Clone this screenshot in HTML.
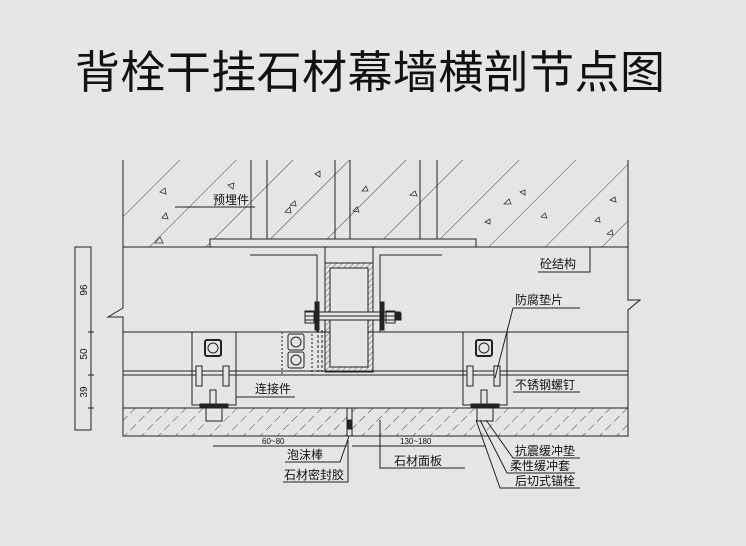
<!DOCTYPE html>
<html><head><meta charset="utf-8"><style>
html,body{margin:0;padding:0;background:#e6e6e4;}
svg{display:block}
text{font-family:"Liberation Sans","Noto Sans CJK SC",sans-serif;fill:#111}
</style></head><body>
<svg width="746" height="546" viewBox="0 0 746 546" xmlns="http://www.w3.org/2000/svg">
<defs>
<pattern id="h" width="12" height="12" patternUnits="userSpaceOnUse" patternTransform="rotate(45)">
<line x1="0" y1="0" x2="0" y2="12" stroke="#333" stroke-width="0.9" stroke-dasharray="8 4"/>
</pattern>
<pattern id="c" width="40" height="40" patternUnits="userSpaceOnUse" patternTransform="rotate(45)">
<line x1="0" y1="0" x2="0" y2="40" stroke="#333" stroke-width="0.9"/>
</pattern>
<pattern id="s" width="4" height="4" patternUnits="userSpaceOnUse" patternTransform="rotate(45)">
<line x1="0" y1="0" x2="0" y2="4" stroke="#444" stroke-width="0.8"/>
</pattern>
</defs>
<rect width="746" height="546" fill="#e6e6e4"/>
<text x="75" y="88" font-size="45" textLength="590" lengthAdjust="spacing" font-family="Noto Sans CJK SC,sans-serif" style="font-weight:400">背栓干挂石材幕墙横剖节点图</text>

<g stroke="#222" stroke-width="1" fill="none">
<rect x="123" y="160" width="505" height="87" fill="url(#c)" stroke="none"/>
<path d="M123 160V247M251 160V239M267 160V239M335 160V239M350 160V239M420 160V239M437 160V239M628 160V247"/>
<rect x="210" y="239" width="266" height="8" fill="#e6e6e4"/>
<line x1="123" y1="247" x2="628" y2="247"/>
<g fill="none" stroke="#333" stroke-width="0.8">
<path d="M155 243l5 -6 3 6z M162 218l4-5 2 6z M160 192l5-4 1 6z M228 185l6-2-1 6z M285 212l5-5 1 6z M290 205l5-4 1 5z M315 174l5-3 0 6z M362 191l4-5 2 5z M353 211l4-4 2 5z M410 195l5-4 2 5z M504 204l5-5 2 5z M485 222l5-3 0 5z M541 217l4-4 2 5z M610 200l5-3 1 5z M595 221l4-4 1 5z M607 234l5-4 1 5z M520 192l5-2 0 5z"/>
</g>
<path d="M123 247V308L108 317H123V436"/>
<path d="M628 247V300H640L628 310V436"/>
<line x1="123" y1="332" x2="628" y2="332"/>
<line x1="123" y1="371" x2="628" y2="371"/>
<line x1="123" y1="375" x2="628" y2="375"/>
<rect x="123" y="408" width="505" height="28" fill="url(#h)"/>
<rect x="347" y="408" width="5" height="28" fill="#e6e6e4"/>
<rect x="347.5" y="420" width="4" height="9" fill="#222"/>
<path d="M250 255H317V332"/><path d="M380 332V255H442"/>
<line x1="325" y1="247" x2="325" y2="263"/><line x1="373" y1="247" x2="373" y2="263"/>
<path d="M325 263H373V372H325Z" fill="url(#s)"/>
<rect x="330" y="268" width="38" height="99" fill="#e6e6e4"/>
<path d="M318 330V372M322 330V372" stroke-dasharray="3 2"/>
<rect x="305" y="312" width="95" height="8" fill="#e6e6e4"/>
<line x1="305" y1="316" x2="395" y2="316"/>
<rect x="315" y="302" width="4" height="28" fill="#222"/>
<rect x="380" y="302" width="4" height="28" fill="#222"/>
<rect x="305" y="311" width="9" height="12"/><rect x="386" y="311" width="9" height="12"/>
<rect x="396" y="313" width="5" height="7" fill="#222"/>
<rect x="282" y="332" width="30" height="43" stroke-dasharray="2 2"/>
<rect x="288" y="334" width="16" height="16" rx="2"/><circle cx="296" cy="342" r="5"/>
<rect x="288" y="352" width="16" height="16" rx="2"/><circle cx="296" cy="360" r="5"/>
<g id="cn">
<rect x="192" y="332" width="44" height="73" fill="#e6e6e4"/>
<line x1="192" y1="371" x2="236" y2="371"/><line x1="192" y1="375" x2="236" y2="375"/>
<rect x="205" y="340" width="16" height="16" rx="2" stroke-width="2"/><circle cx="213" cy="348" r="5"/>
<rect x="196" y="366" width="6" height="20" fill="#e6e6e4"/><rect x="223" y="366" width="6" height="20" fill="#e6e6e4"/>
<rect x="210" y="390" width="6" height="14"/>
<rect x="200" y="404" width="28" height="4" fill="#222"/>
<rect x="206" y="408" width="16" height="13" fill="#e6e6e4"/>
</g>
<use href="#cn" x="271"/>
<rect x="75" y="247" width="16" height="183"/>
<path d="M88 332h6M88 375h6M88 408h6"/>
<line x1="213" y1="446" x2="347" y2="446"/>
<line x1="352" y1="446" x2="485" y2="446"/>
<path d="M175 207H255"/>
<path d="M538 272H590V247"/>
<path d="M513 308H580M513 308L495 378"/>
<path d="M236 397H295"/>
<path d="M513 392H580"/>
<path d="M486 420L513 458H580"/>
<path d="M480 420L507 473H575"/>
<path d="M476 420L500 488H580"/>
<path d="M380 420V468H465"/>
<path d="M349 436L340 462H285"/>
<path d="M283 482H348V440"/>
</g>
<g font-size="12">
<text x="213" y="204">预埋件</text>
<text x="540" y="268">砼结构</text>
<text x="515" y="304">防腐垫片</text>
<text x="255" y="393">连接件</text>
<text x="515" y="389">不锈钢螺钉</text>
<text x="515" y="455">抗震缓冲垫</text>
<text x="510" y="470">柔性缓冲套</text>
<text x="515" y="485">后切式锚栓</text>
<text x="287" y="459">泡沫棒</text>
<text x="284" y="479">石材密封胶</text>
<text x="394" y="465">石材面板</text>
</g>
<g font-size="8" fill="#333">
<text x="262" y="444">60~80</text>
<text x="400" y="444">130~180</text>
<text transform="translate(87,290) rotate(-90)" text-anchor="middle" font-size="10">96</text>
<text transform="translate(87,354) rotate(-90)" text-anchor="middle" font-size="10">50</text>
<text transform="translate(87,392) rotate(-90)" text-anchor="middle" font-size="10">39</text>
</g>
</svg>
</body></html>
